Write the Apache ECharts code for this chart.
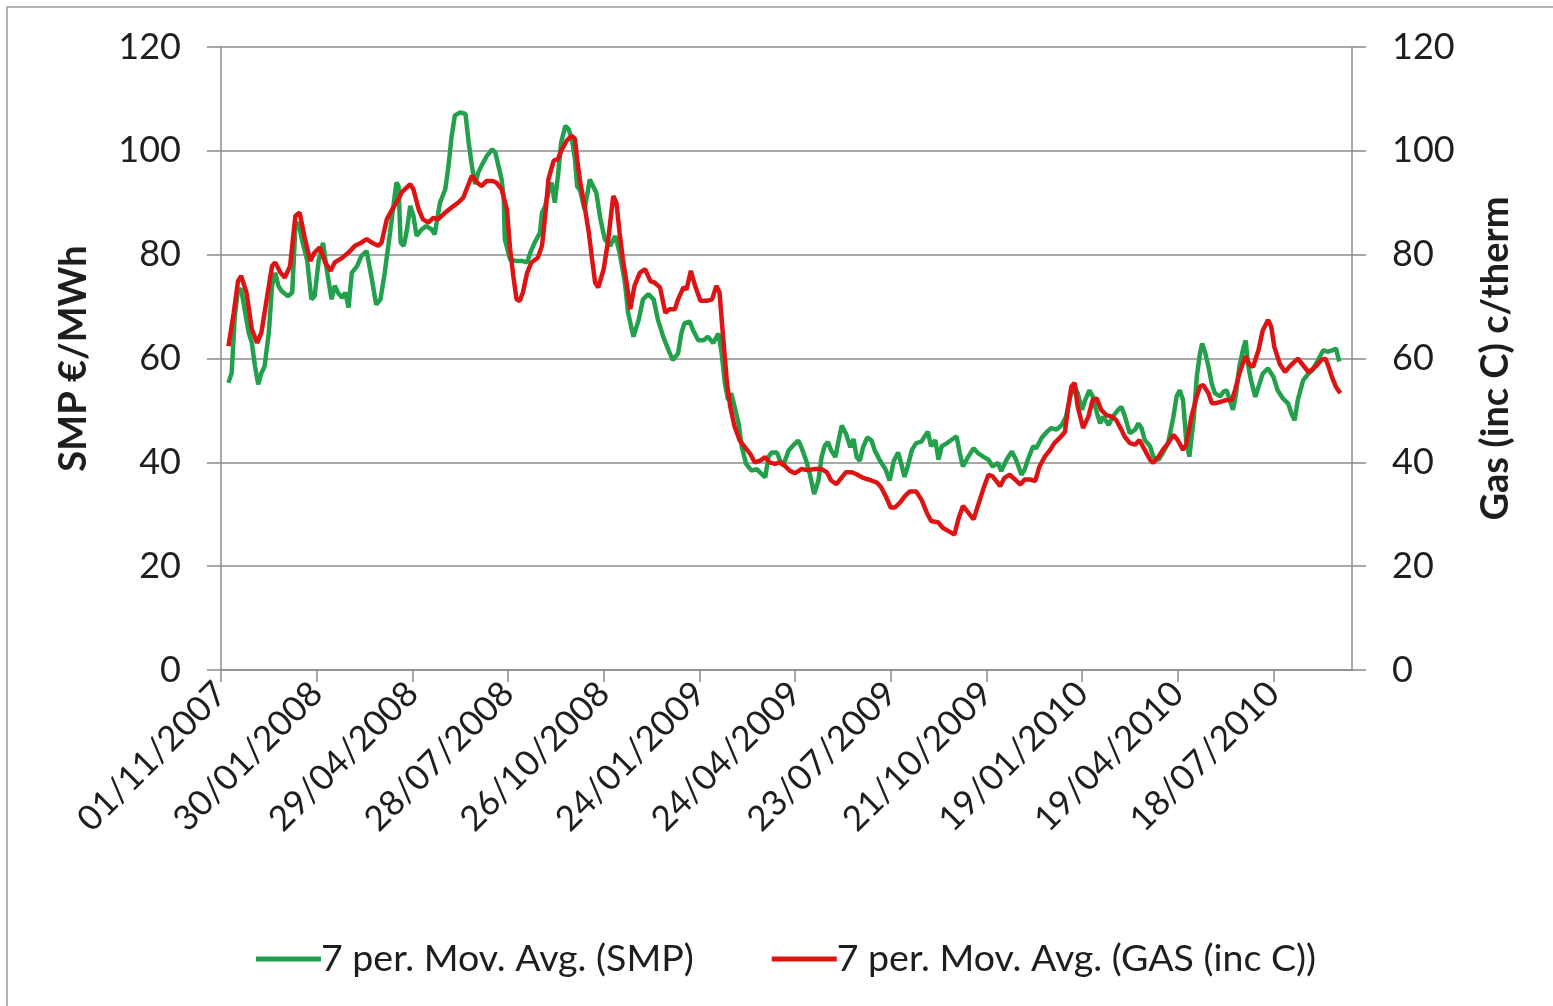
<!DOCTYPE html>
<html>
<head>
<meta charset="utf-8">
<script src="https://cdn.jsdelivr.net/npm/echarts@6/dist/echarts.min.js"></script>
<style>
  html, body { margin: 0; padding: 0; background: #fff; }
  #chart { width: 1553px; height: 1006px; }
</style>
</head>
<body>
<div id="chart"></div>
<script>
// days counted from 01/11/2007, 90 days between axis ticks
var tickLabels = ['01/11/2007','30/01/2008','29/04/2008','28/07/2008','26/10/2008','24/01/2009',
                  '24/04/2009','23/07/2009','21/10/2009','19/01/2010','19/04/2010','18/07/2010'];

var smpDays = [
    7,10,13,16,19,26,29,32,35,38,
    41,45,48,51,54,57,63,67,70,73,
    76,81,85,88,92,96,99,104,107,110,
    114,117,120,123,128,132,137,142,146,150,
    154,159,165,167,169,172,175,178,181,184,
    189,193,198,201,206,211,214,217,220,225,
    230,233,236,239,242,245,250,255,258,261,
    264,266,267,272,277,283,288,291,295,300,
    302,305,308,311,314,317,320,324,327,330,
    333,335,338,342,347,350,353,357,361,366,
    371,375,380,383,388,393,397,402,407,411,
    416,421,425,430,433,436,441,444,449,454,
    458,463,468,471,474,477,480,484,487,490,
    494,499,504,509,512,515,518,523,526,529,
    534,538,543,546,551,554,558,562,565,568,
    571,574,578,581,584,588,592,595,598,601,
    604,608,612,615,620,625,629,633,637,640,
    643,646,650,654,659,662,665,668,672,675,
    678,683,687,692,695,698,703,708,712,717,
    722,726,731,734,739,744,748,753,756,759,
    764,767,772,777,781,786,791,795,799,803,
    806,810,813,817,820,824,827,830,835,839,
    844,847,850,855,860,863,866,869,874,877,
    882,886,891,896,899,902,905,908,911,915,
    918,921,923,926,929,932,935,940,943,946,
    949,952,955,958,962,964,966,969,973,976,
    980,985,990,994,999,1004,1007,1010,1013,1018,
    1023,1027,1032,1037,1041,1046,1049,1052
];
var smpValues = [
    55.3,57.2,68.2,73.3,73.3,65,63,58.5,55,57.2,
    58.5,65,74,76.5,74,73,72,72.7,85.5,86.2,
    83,79,71.4,72,79,82.3,77.8,71.4,74,72.7,
    71.7,72.7,69.8,76.5,77.8,79.7,80.7,75.2,70.4,71.4,
    76.5,84.2,93.9,93.2,82.3,81.7,84.9,89.4,87.5,83.6,
    84.9,85.5,84.9,83.9,90,92.6,97.1,102.9,106.8,107.4,
    107.1,101.6,97.1,93.6,95.8,97.1,99,100.3,99.7,97.1,
    94.5,90.7,83,79.1,78.8,78.8,78.5,80.4,82.3,84.2,
    88.1,89.4,92,93.9,90,95.2,101.6,104.8,104.2,102.3,
    98.4,93.2,92.3,88.7,94.5,93.2,92,86.8,83,81.7,
    83.6,80.4,74.6,68.8,64.2,67.5,71.4,72.4,71.4,67.5,
    64.2,61.6,59.7,61,64.8,66.8,67.1,65.5,63.5,63.5,
    64.2,63,64.8,61,55.3,52,53.3,50,47.4,42.9,
    39.7,38.4,38.7,37.7,37.1,41,41.9,41.9,40.3,39.4,
    42.3,43.2,44.2,42.9,40,37.7,33.9,36.5,41,43.2,
    43.9,42.3,41,44.2,47.1,45.5,42.9,44.5,41,40.3,
    42.9,44.8,44.2,42.3,40.3,38.7,36.5,40.3,41.9,39.7,
    37.2,39.2,42.4,43.7,44,45,45.9,43.1,44.3,40.5,
    43.1,43.7,44.3,45,41.8,39.2,41.1,42.7,41.8,41.1,
    40.5,39.2,39.9,38.3,40.5,42.1,40.5,37.6,38.6,40.5,
    43.1,42.7,44.7,45.9,46.6,46.3,47.2,48.8,52.7,54.6,
    53.3,50.1,52,53.9,52.7,49.5,47.5,48.8,47.2,48.8,
    50.1,50.7,49.1,45.6,46.3,47.5,46.6,44.3,43.1,41.1,
    40.5,41.8,43.7,48.8,52.7,53.9,52,44.3,41.1,48.2,
    56.5,61,62.9,61,58.4,55.2,53.3,52.7,53.6,53.9,
    52,50.1,53.3,58.4,62.2,63.5,59,55.8,52.6,54.5,
    57.1,58.1,56.5,53.9,52.3,51.3,49.4,48.1,52,55.8,
    57.1,57.8,59.7,61.6,61.3,61.6,61.9,59.4
];

var gasDays = [
    7,12,16,19,24,29,34,38,43,48,
    51,56,60,65,70,74,79,84,88,93,
    98,103,107,114,120,126,132,137,142,148,
    151,156,161,167,170,178,181,186,190,195,
    200,204,211,217,223,228,231,236,241,245,
    250,255,259,264,269,272,275,278,281,284,
    288,292,298,302,305,308,313,317,320,325,
    330,333,335,338,342,346,349,352,355,360,
    364,369,372,375,378,382,385,389,394,399,
    404,408,413,418,422,427,430,435,438,442,
    446,451,457,462,466,469,472,476,479,483,
    488,493,498,502,507,512,516,521,526,530,
    535,540,546,552,559,565,570,574,579,584,
    588,593,598,603,607,612,617,621,626,630,
    634,639,643,648,654,659,664,668,675,679,
    684,690,694,698,703,708,712,717,722,726,
    733,737,742,747,752,756,761,766,770,775,
    780,784,789,794,797,800,803,806,811,816,
    820,824,828,833,838,842,847,850,855,860,
    864,869,874,877,882,886,891,896,900,905,
    908,913,918,921,924,929,932,936,941,946,
    951,954,958,962,964,968,971,976,980,985,
    988,991,996,1001,1005,1010,1013,1018,1023,1026,
    1031,1035,1039,1042,1045,1049,1053
];
var gasValues = [
    62.4,68.8,74.9,75.9,72.7,65.6,63,65,71.4,77.8,
    78.5,76.5,75.6,77.8,87.5,88.1,83,78.8,80.4,81.4,
    78.5,76.9,78.5,79.4,80.4,81.7,82.3,83,82.3,81.7,
    82.3,86.8,88.7,90.7,92,93.6,92.6,88.7,86.8,86.2,
    87.1,86.8,88.1,89.1,90,91,92.6,95.2,93.9,93.2,
    94.2,94.2,93.9,92.6,88.7,81,75.9,71.4,71.1,72.7,
    76.5,78.5,79.4,81.7,87.5,94.5,98.1,98.4,100,101.9,
    102.9,102.3,98.4,93.9,89.4,84.3,79.2,74.6,73.7,77.2,
    82.4,91.3,90,84.2,79.2,74,69.5,74,76.5,77.2,
    74.9,74.6,73.7,68.8,69.5,69.5,71.4,73.7,73.3,76.9,
    74,71.1,71.1,71.4,74,72.7,65,55.3,50.8,47,
    44.2,42.9,41.6,40,40.3,41,40,39.7,40,39.4,
    38.4,37.9,38.7,38.5,38.7,38.7,38.1,36.5,35.8,37.1,
    38.1,38.1,37.7,37.1,36.8,36.5,36.1,35.2,33.2,31.3,
    31.3,32.3,33.4,34.4,34.4,32.8,30.3,28.7,28.4,27.4,
    26.8,26.1,29.3,31.6,30.3,29,31.6,34.8,37.6,37.3,
    35.4,37,37.6,36.7,35.7,36.7,36.7,36.4,39.2,41.1,
    42.4,43.7,44.7,45.9,50.7,54.6,55.3,50.7,46.6,48.8,
    52,52.3,50.1,49.1,48.8,48.2,46.3,45,43.7,43.4,
    44.3,42.4,40.5,39.9,41.1,42.4,43.7,45.3,44.3,42.4,
    43.4,48.8,52.7,54.6,54.9,53.3,51.4,51.4,51.7,52,
    52,53.9,57.1,59.4,60.4,58.7,58.4,61.6,65.4,67.4,
    66.1,62.2,59,57.4,58.4,59.4,60,58.7,57.4,57.8,
    58.7,59.7,60,58.4,56.5,54.5,53.3
];

var seriesNames = ['7 per. Mov. Avg. (SMP)', '7 per. Mov. Avg. (GAS (inc C))'];

var myChart = echarts.init(document.getElementById('chart'));

var textColor = '#1e1e1e';
var lineGray = '#8c8c8c';
var fontFam = 'Lato, "Open Sans", sans-serif';
var tickValues = tickLabels.map(function (t, i) { return i * 90; });

function pairs(days, vals) {
    return days.map(function (d, i) { return [d, vals[i]]; });
}

function yAxisOpt(pos, name, gap) {
    return {
        type: 'value',
        position: pos,
        min: 0, max: 120, interval: 20,
        name: name,
        nameLocation: 'middle',
        nameRotate: 90,
        nameGap: gap,
        nameTextStyle: { fontFamily: fontFam, fontSize: 38, fontWeight: 'bold', color: textColor },
        axisLine: { show: true, lineStyle: { color: lineGray, width: 1.5 } },
        axisTick: { show: true, inside: false, length: 14, lineStyle: { color: lineGray, width: 1.5 } },
        axisLabel: { margin: 40, fontFamily: fontFam, fontSize: 36, color: textColor },
        splitLine: { show: pos === 'left', lineStyle: { color: lineGray, width: 1.5 } }
    };
}

option = {
    animation: false,
    backgroundColor: '#fff',
    graphic: [{
        type: 'rect',
        shape: { x: 7, y: 7, width: 1600, height: 1050 },
        style: { fill: null, stroke: '#9a9a9a', lineWidth: 1.5 },
        silent: true
    }],
    grid: { left: 221, right: 201, top: 47, bottom: 336, containLabel: false, outerBoundsMode: 'none' },
    legend: {
        data: seriesNames,
        top: 935,
        left: 251,
        icon: 'rect',
        itemWidth: 65,
        itemHeight: 5,
        itemGap: 78,
        textStyle: { fontFamily: fontFam, fontSize: 37.5, color: textColor, padding: [0, 0, 0, -5] }
    },
    xAxis: {
        type: 'value',
        min: 0, max: 1064,
        axisLine: { show: true, onZero: false, lineStyle: { color: lineGray, width: 1.5 } },
        axisTick: { show: true, length: 12, customValues: tickValues, lineStyle: { color: lineGray, width: 1.5 } },
        axisLabel: {
            customValues: tickValues,
            rotate: 45,
            margin: 18,
            fontFamily: fontFam, fontSize: 35, color: textColor,
            formatter: function (v) { return tickLabels[Math.round(v / 90)]; }
        },
        splitLine: { show: false }
    },
    yAxis: [
        yAxisOpt('left', 'SMP €/MWh', 128),
        yAxisOpt('right', 'Gas (inc C) c/therm', 125)
    ],
    series: [
        {
            name: seriesNames[0],
            type: 'line',
            yAxisIndex: 0,
            showSymbol: false,
            symbol: 'none',
            lineStyle: { color: '#22a04c', width: 4.5 },
            itemStyle: { color: '#22a04c' },
            data: pairs(smpDays, smpValues)
        },
        {
            name: seriesNames[1],
            type: 'line',
            yAxisIndex: 1,
            showSymbol: false,
            symbol: 'none',
            lineStyle: { color: '#dd1414', width: 4.5 },
            itemStyle: { color: '#dd1414' },
            data: pairs(gasDays, gasValues)
        }
    ]
};

myChart.setOption(option);
</script>
</body>
</html>
